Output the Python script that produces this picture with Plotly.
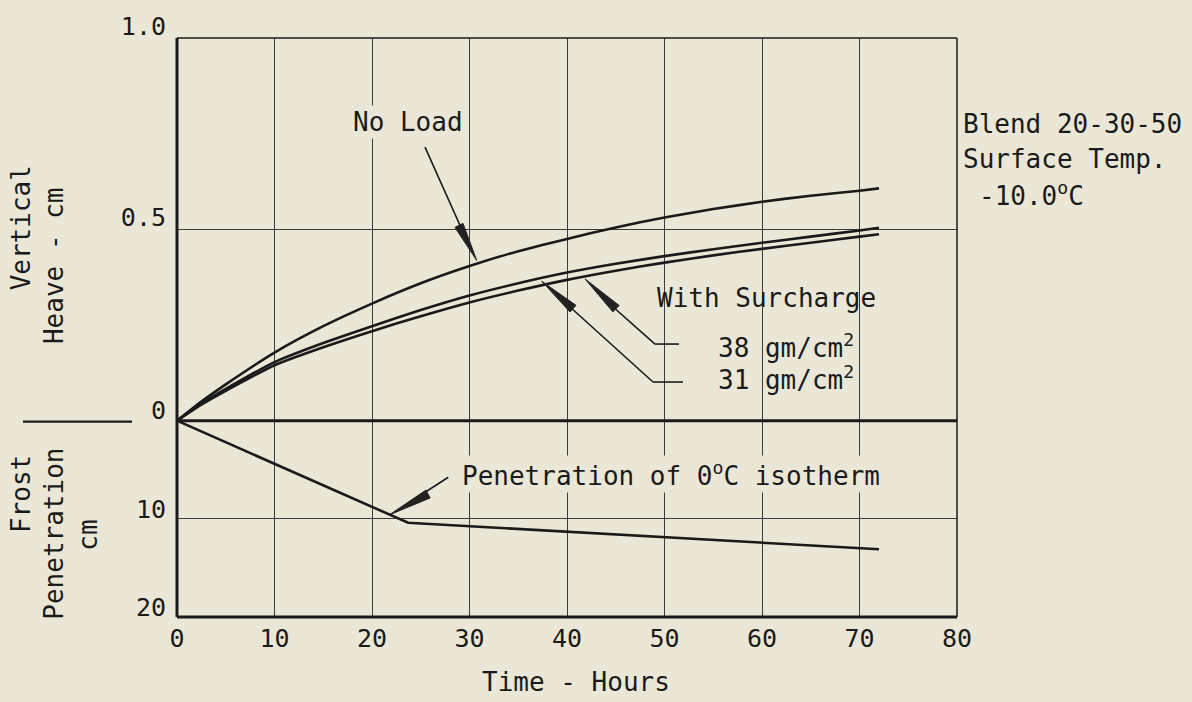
import plotly.graph_objects as go

# ---------------- data ----------------
hours = [0, 2.5, 5, 10, 15, 20, 25, 30, 35, 40, 45, 50, 55, 60, 65, 70, 72]
heave_no_load = [0, 0.05, 0.095, 0.178, 0.247, 0.306, 0.359, 0.404, 0.443, 0.475,
                 0.505, 0.531, 0.553, 0.572, 0.588, 0.601, 0.607]
heave_31 = [0, 0.045, 0.083, 0.153, 0.203, 0.247, 0.289, 0.327, 0.359, 0.387,
            0.410, 0.430, 0.448, 0.465, 0.481, 0.497, 0.504]
heave_38 = [0, 0.042, 0.078, 0.145, 0.192, 0.234, 0.273, 0.309, 0.340, 0.368,
            0.392, 0.413, 0.432, 0.449, 0.465, 0.481, 0.487]

frost_hours = [0, 23.7, 72]
frost_depth = [0, 10.4, 13.1]

x_ticks = [0, 10, 20, 30, 40, 50, 60, 70, 80]
heave_ticks = [0.5, 1.0]
heave_ticktext = ["0.5", "1.0"]
frost_ticks = [0, 10, 20]

# ---------------- style ----------------
W, H = 1192, 702
ML, MR, MT, MB = 177, 235, 33, 85
PW, PH = W - ML - MR, H - MT - MB
SPLIT = (617 - 419) / PH
BG = "#EAE7D6"
INK = "#1a1a1a"
GRID = "#3c3c3c"
FONT = "DejaVu Sans Mono"


def px(x):
    return (x - ML) / PW


def py(y):
    return (H - MB - y) / PH


fig = go.Figure()
line_style = dict(color=INK, width=2.6, shape="spline", smoothing=0.6)
fig.add_trace(go.Scatter(x=hours, y=heave_no_load, mode="lines", line=line_style,
                         xaxis="x2", yaxis="y", name="No Load"))
fig.add_trace(go.Scatter(x=hours, y=heave_31, mode="lines", line=line_style,
                         xaxis="x2", yaxis="y", name="31 gm/cm2"))
fig.add_trace(go.Scatter(x=hours, y=heave_38, mode="lines", line=line_style,
                         xaxis="x2", yaxis="y", name="38 gm/cm2"))
fig.add_trace(go.Scatter(x=frost_hours, y=frost_depth, mode="lines",
                         line=dict(color=INK, width=2.6),
                         xaxis="x", yaxis="y2", name="Penetration"))

shapes = []


def seg(x0, y0, x1, y1, w=1.6, color=INK):
    shapes.append(dict(type="line", xref="paper", yref="paper",
                       x0=px(x0), y0=py(y0), x1=px(x1), y1=py(y1),
                       line=dict(color=color, width=w)))


def head(bx, by, tx, ty, hw=4.5):
    dx, dy = tx - bx, ty - by
    n = (dx * dx + dy * dy) ** 0.5
    nx, ny = -dy / n * hw, dx / n * hw
    p = [(tx, ty), (bx + nx, by + ny), (bx - nx, by - ny)]
    path = "M {} {} L {} {} L {} {} Z".format(*[v for pt in p for v in (px(pt[0]), py(pt[1]))])
    shapes.append(dict(type="path", xref="paper", yref="paper", path=path,
                       fillcolor="#222", line=dict(color="#222", width=1)))


# blank area behind the surcharge labels (hides gridlines there)
shapes.append(dict(type="rect", xref="paper", yref="paper", layer="between",
                   x0=px(645), x1=px(885), y0=py(398), y1=py(275),
                   fillcolor=BG, line=dict(width=0)))

# frame
seg(177, 33, 957, 33, 1.5)
seg(957, 33, 957, 617, 1.5)
seg(177, 33, 177, 617, 3)
seg(177, 617, 957, 617, 3)
seg(177, 419, 957, 419, 3)
# separator between the two axis titles
seg(23, 420, 132, 420, 2.2)

# arrows
seg(425, 143, 468, 240)
head(459, 222, 476.7, 257.3)
seg(683, 380, 653, 380)
seg(653, 380, 562, 297)
head(573, 306, 541.7, 278.3)
seg(679, 341.7, 655, 341.7)
seg(655, 341.7, 605, 297)
head(616, 306, 585, 276)
seg(448.3, 476, 410, 501)
head(428, 493, 389.3, 514)

ann = []


def text(x, y, s, xanchor="center", angle=0, bg=None, size=26):
    d = dict(x=px(x), y=py(y), xref="paper", yref="paper", text=s, showarrow=False,
             xanchor=xanchor, yanchor="middle", textangle=angle,
             font=dict(family=FONT, size=size, color=INK))
    if bg:
        d["bgcolor"] = bg
    ann.append(d)


text(408, 118, "No Load", bg=BG)
text(655, 295, "With Surcharge", xanchor="left")
text(716, 344, "38 gm/cm<sup>2</sup>", xanchor="left")
text(716, 376, "31 gm/cm<sup>2</sup>", xanchor="left")
text(460, 473, "Penetration of 0<sup>o</sup>C isotherm", xanchor="left", bg=BG)
text(961, 120, "Blend 20-30-50", xanchor="left")
text(961, 155, "Surface Temp.", xanchor="left")
text(977, 190, "-10.0<sup>o</sup>C", xanchor="left")
text(576, 683, "Time - Hours")
text(21, 225, "Vertical", angle=-90)
text(54, 263, "Heave - cm", angle=-90)
text(21, 493, "Frost", angle=-90)
text(54, 533, "Penetration", angle=-90)
text(88, 535, "cm", angle=-90)

axis_font = dict(family=FONT, size=25, color=INK)
fig.update_layout(
    width=W, height=H,
    margin=dict(l=ML, r=MR, t=MT, b=MB, pad=0),
    paper_bgcolor=BG, plot_bgcolor=BG,
    showlegend=False,
    xaxis=dict(domain=[0, 1], range=[0, 80], anchor="y2", tickvals=x_ticks,
               showgrid=True, gridcolor=GRID, gridwidth=1, zeroline=False,
               showline=False, ticks="", tickfont=axis_font, ticklabelstandoff=4),
    xaxis2=dict(domain=[0, 1], range=[0, 80], anchor="y", matches="x", tickvals=x_ticks,
                showgrid=True, gridcolor=GRID, gridwidth=1, zeroline=False,
                showline=False, ticks="", showticklabels=False),
    yaxis=dict(domain=[SPLIT, 1], range=[0, 1], anchor="x2", tickvals=heave_ticks,
               ticktext=heave_ticktext, showgrid=True, gridcolor=GRID, gridwidth=1,
               zeroline=False, showline=False, ticks="", tickfont=axis_font,
               ticklabelshift=-12, ticklabelstandoff=10),
    yaxis2=dict(domain=[0, SPLIT], range=[20, 0], anchor="x", tickvals=frost_ticks,
                showgrid=True, gridcolor=GRID, gridwidth=1, zeroline=False,
                showline=False, ticks="", tickfont=axis_font,
                ticklabelshift=10, ticklabelstandoff=10),
    shapes=shapes,
    annotations=ann,
)

fig.write_html("out.html")
